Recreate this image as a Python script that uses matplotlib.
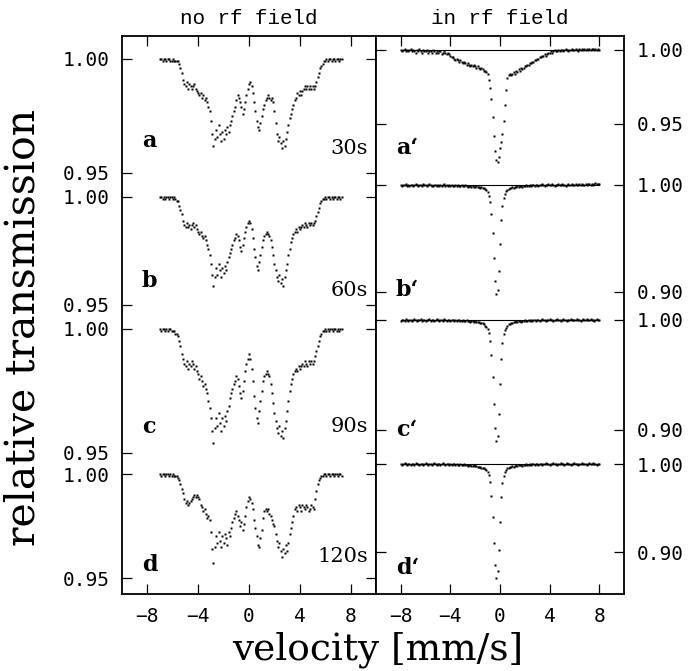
#coding=utf-8

import matplotlib
matplotlib.use("Agg")
from matplotlib import pyplot as plt

# velocity channels [mm/s]
velocity_left = [
    -7.0, -6.9, -6.8, -6.7, -6.6, -6.5, -6.4, -6.3, -6.2, -6.1,
    -6.0, -5.9, -5.8, -5.7, -5.6, -5.5, -5.4, -5.3, -5.2, -5.1,
    -5.0, -4.9, -4.8, -4.7, -4.6, -4.5, -4.4, -4.3, -4.2, -4.1,
    -4.0, -3.9, -3.8, -3.7, -3.6, -3.5, -3.4, -3.3, -3.2, -3.1,
    -3.0, -2.9, -2.8, -2.7, -2.6, -2.5, -2.4, -2.3, -2.2, -2.1,
    -2.0, -1.9, -1.8, -1.7, -1.6, -1.5, -1.4, -1.3, -1.2, -1.1,
    -1.0, -0.9, -0.8, -0.7, -0.6, -0.5, -0.4, -0.3, -0.2, -0.1,
    0.0, 0.1, 0.2, 0.3, 0.4, 0.5, 0.6, 0.7, 0.8, 0.9,
    1.0, 1.1, 1.2, 1.3, 1.4, 1.5, 1.6, 1.7, 1.8, 1.9,
    2.0, 2.1, 2.2, 2.3, 2.4, 2.5, 2.6, 2.7, 2.8, 2.9,
    3.0, 3.1, 3.2, 3.3, 3.4, 3.5, 3.6, 3.7, 3.8, 3.9,
    4.0, 4.1, 4.2, 4.3, 4.4, 4.5, 4.6, 4.7, 4.8, 4.9,
    5.0, 5.1, 5.2, 5.3, 5.4, 5.5, 5.6, 5.7, 5.8, 5.9,
    6.0, 6.1, 6.2, 6.3, 6.4, 6.5, 6.6, 6.7, 6.8, 6.9,
    7.0, 7.1, 7.2, 7.3]

velocity_right = [
    -8.0, -7.9, -7.8, -7.7, -7.6, -7.5, -7.4, -7.3, -7.2, -7.1,
    -7.0, -6.9, -6.8, -6.7, -6.6, -6.5, -6.4, -6.3, -6.2, -6.1,
    -6.0, -5.9, -5.8, -5.7, -5.6, -5.5, -5.4, -5.3, -5.2, -5.1,
    -5.0, -4.9, -4.8, -4.7, -4.6, -4.5, -4.4, -4.3, -4.2, -4.1,
    -4.0, -3.9, -3.8, -3.7, -3.6, -3.5, -3.4, -3.3, -3.2, -3.1,
    -3.0, -2.9, -2.8, -2.7, -2.6, -2.5, -2.4, -2.3, -2.2, -2.1,
    -2.0, -1.9, -1.8, -1.7, -1.6, -1.5, -1.4, -1.3, -1.2, -1.1,
    -1.0, -0.9, -0.8, -0.7, -0.6, -0.5, -0.4, -0.3, -0.2, -0.1,
    0.0, 0.1, 0.2, 0.3, 0.4, 0.5, 0.6, 0.7, 0.8, 0.9,
    1.0, 1.1, 1.2, 1.3, 1.4, 1.5, 1.6, 1.7, 1.8, 1.9,
    2.0, 2.1, 2.2, 2.3, 2.4, 2.5, 2.6, 2.7, 2.8, 2.9,
    3.0, 3.1, 3.2, 3.3, 3.4, 3.5, 3.6, 3.7, 3.8, 3.9,
    4.0, 4.1, 4.2, 4.3, 4.4, 4.5, 4.6, 4.7, 4.8, 4.9,
    5.0, 5.1, 5.2, 5.3, 5.4, 5.5, 5.6, 5.7, 5.8, 5.9,
    6.0, 6.1, 6.2, 6.3, 6.4, 6.5, 6.6, 6.7, 6.8, 6.9,
    7.0, 7.1, 7.2, 7.3, 7.4, 7.5, 7.6, 7.7, 7.8, 7.9,
    8.0]

# absorption = 1 - relative transmission, in units of 1e-3
absorb_a = [
    0, 0, 1, 0, 0, 1, 0, 0, 1, 1,
    0, 1, 1, 1, 1, 2, 4, 6, 9, 11,
    12, 10, 13, 11, 12, 13, 12, 11, 13, 14,
    15, 16, 15, 17, 16, 18, 17, 19, 21, 23,
    27, 33, 38, 35, 31, 34, 29, 33, 36, 32,
    35, 31, 33, 30, 32, 29, 27, 25, 23, 21,
    18, 16, 17, 19, 21, 24, 22, 19, 16, 13,
    11, 10, 12, 15, 19, 23, 27, 30, 31, 28,
    25, 22, 20, 18, 17, 16, 17, 18, 17, 19,
    23, 28, 33, 36, 34, 37, 39, 36, 38, 35,
    32, 29, 26, 24, 22, 20, 18, 17, 15, 16,
    14, 16, 14, 13, 12, 13, 12, 13, 12, 13,
    12, 13, 12, 10, 8, 6, 4, 3, 2, 1,
    1, 0, 1, 0, 0, 1, 0, 0, 1, 0,
    0, 1, 0, 0]

absorb_b = [
    0, 0, 1, 0, 1, 0, 0, 1, 0, 0,
    1, 0, 1, 2, 2, 4, 6, 8, 11, 13,
    14, 12, 14, 13, 15, 13, 12, 14, 13, 15,
    16, 17, 16, 18, 19, 18, 20, 22, 24, 27,
    31, 36, 41, 37, 33, 36, 31, 34, 37, 33,
    35, 32, 34, 30, 28, 26, 24, 22, 20, 19,
    17, 18, 20, 23, 25, 22, 19, 16, 14, 12,
    11, 12, 15, 19, 24, 28, 32, 34, 30, 27,
    23, 20, 18, 17, 16, 17, 18, 20, 23, 27,
    31, 34, 37, 39, 36, 40, 38, 41, 37, 34,
    31, 27, 24, 21, 19, 17, 16, 15, 16, 14,
    15, 14, 13, 14, 12, 13, 14, 12, 13, 12,
    13, 12, 11, 9, 7, 5, 3, 2, 1, 1,
    0, 1, 0, 0, 1, 0, 1, 0, 0, 1,
    0, 0, 1, 0]

absorb_c = [
    0, 1, 0, 0, 1, 0, 1, 0, 0, 1,
    1, 1, 2, 2, 3, 5, 7, 10, 12, 14,
    15, 13, 16, 14, 15, 13, 14, 16, 15, 17,
    18, 20, 19, 21, 23, 22, 24, 26, 29, 32,
    36, 41, 46, 40, 36, 39, 34, 38, 41, 36,
    39, 35, 37, 33, 31, 28, 26, 24, 22, 21,
    19, 20, 23, 26, 28, 25, 21, 17, 14, 12,
    10, 12, 16, 21, 27, 32, 36, 38, 33, 29,
    25, 21, 19, 18, 17, 18, 19, 22, 26, 30,
    34, 37, 40, 42, 39, 43, 41, 44, 40, 37,
    33, 29, 25, 22, 20, 18, 17, 16, 17, 15,
    16, 15, 14, 15, 13, 14, 15, 13, 14, 13,
    14, 13, 11, 9, 7, 5, 3, 2, 1, 1,
    0, 1, 0, 1, 0, 0, 1, 0, 0, 1,
    0, 1, 0, 0]

absorb_d = [
    0, 1, 0, 0, 1, 0, 0, 1, 0, 1,
    0, 1, 1, 1, 2, 3, 5, 7, 9, 12,
    14, 13, 15, 14, 13, 12, 11, 10, 11, 10,
    11, 12, 15, 16, 18, 17, 19, 21, 20, 22,
    28, 36, 43, 35, 30, 33, 28, 32, 35, 30,
    33, 29, 31, 34, 28, 30, 26, 23, 21, 19,
    18, 20, 22, 25, 23, 27, 24, 20, 16, 13,
    11, 12, 14, 17, 22, 26, 30, 34, 35, 31,
    27, 21, 18, 17, 18, 17, 19, 20, 22, 24,
    25, 29, 32, 35, 33, 37, 40, 36, 38, 34,
    37, 33, 29, 26, 23, 20, 17, 16, 18, 15,
    16, 18, 15, 16, 17, 15, 16, 18, 17, 15,
    16, 17, 12, 8, 5, 3, 2, 1, 1, 0,
    0, 1, 0, 0, 1, 0, 0, 1, 0, 0,
    1, 0, 0, 1]

absorb_a_rf = [
    0, 1, 0, -1, 1, 0, 1, 0, -1, 1,
    0, 1, 2, 0, 1, -1, 1, 2, 0, 1,
    1, 0, 2, 1, 1, 2, 0, 1, 2, 1,
    2, 1, 1, 3, 2, 1, 2, 3, 2, 3,
    4, 5, 5, 6, 7, 6, 7, 8, 7, 8,
    9, 8, 9, 10, 9, 10, 11, 10, 11, 10,
    11, 12, 11, 12, 13, 12, 13, 14, 14, 15,
    16, 20, 26, 33, 45, 58, 68, 74, 76, 72,
    66, 62, 57, 48, 37, 27, 19, 17, 16, 17,
    16, 15, 16, 14, 15, 13, 14, 12, 13, 12,
    11, 11, 10, 10, 9, 9, 8, 8, 7, 7,
    6, 6, 5, 5, 4, 4, 3, 4, 3, 2,
    2, 1, 2, 1, 0, 1, 1, 0, 1, 0,
    0, 1, 0, -1, 0, 1, 0, 0, -1, 0,
    0, -1, 0, 1, -1, 0, -1, 0, -1, 0,
    -1, 0, -1, 0, -1, -1, 0, -1, 0, -1,
    0]

absorb_b_rf = [
    0, 1, 0, 0, -1, 1, 0, 1, 0, 0,
    1, 0, -1, 0, 1, 0, 0, 1, -1, 0,
    0, 1, 0, -1, 0, 1, 1, 0, 0, 1,
    0, 1, 0, 1, 0, -1, 1, 0, 1, 0,
    1, 0, 1, 1, 0, 1, 0, 1, 1, 0,
    1, 1, 0, 1, 2, 1, 1, 2, 1, 2,
    2, 1, 2, 2, 3, 2, 3, 3, 4, 5,
    7, 10, 16, 27, 45, 68, 90, 102, 98, 80,
    55, 33, 20, 12, 8, 6, 5, 4, 3, 3,
    2, 3, 2, 2, 1, 2, 1, 1, 2, 1,
    1, 0, 1, 1, 0, 1, 0, 0, 1, 0,
    0, 1, 0, 0, -1, 0, 1, 0, 0, -1,
    0, 0, -1, 0, 1, 0, 0, -1, 0, 0,
    -1, 0, 0, 1, 0, -1, 0, 0, -1, 0,
    0, -1, 0, 0, -1, 0, -1, 0, 0, -1,
    0, -1, -1, 0, -1, 0, -1, -2, -1, -1,
    -1]

absorb_c_rf = [
    1, 0, 0, 1, -1, 0, 1, 0, 0, 1,
    0, -1, 0, 1, 0, 0, -1, 1, 0, 0,
    1, 0, 0, -1, 1, 0, 0, 1, 0, -1,
    0, 1, 0, 0, 1, -1, 0, 1, 0, 0,
    1, 0, 0, 1, 0, 1, 0, 0, 1, 1,
    0, 1, 1, 0, 1, 1, 2, 1, 1, 2,
    1, 2, 2, 2, 3, 3, 3, 4, 5, 6,
    8, 12, 19, 32, 52, 76, 98, 110, 105, 85,
    58, 35, 21, 13, 9, 7, 5, 4, 4, 3,
    3, 2, 2, 1, 2, 1, 1, 2, 1, 1,
    0, 1, 1, 0, 1, 0, 1, 0, 0, 1,
    0, 0, 1, 0, -1, 0, 0, 1, 0, 0,
    -1, 0, 0, 1, 0, 0, -1, 0, 0, 1,
    0, -1, 0, 0, 1, 0, 0, -1, 0, 0,
    0, 0, -1, 0, 0, 1, 0, -1, 0, 0,
    -1, 0, 0, -1, 0, 0, 1, 0, -1, 0,
    0]

absorb_d_rf = [
    0, 1, 0, -1, 0, 1, 0, 0, 1, 0,
    0, 1, -1, 0, 0, 1, 0, 0, 1, 0,
    -1, 0, 1, 0, 0, 1, 0, -1, 0, 1,
    0, 0, 1, 0, -1, 0, 1, 0, 0, 1,
    0, 1, 0, 0, 1, 0, 1, 1, 0, 1,
    1, 0, 1, 1, 2, 1, 1, 2, 2, 1,
    2, 2, 3, 3, 3, 4, 4, 5, 6, 7,
    9, 13, 21, 36, 60, 90, 115, 130, 122, 98,
    66, 38, 22, 14, 9, 7, 5, 4, 3, 3,
    2, 3, 2, 1, 2, 1, 1, 1, 2, 1,
    1, 0, 1, 1, 0, 1, 0, 0, 1, 0,
    0, 1, 0, 0, 1, 0, 0, -1, 0, 0,
    1, 0, 0, -1, 0, 0, 1, 0, 0, -1,
    0, 0, 1, 0, -1, 0, 0, 1, 0, 0,
    -1, 0, 0, 1, 0, 0, -1, 0, 0, 0,
    1, 0, -1, 0, 0, -1, 0, 0, 1, 0,
    0]

left_letters = ["a", "b", "c", "d"]
left_times = ["30s", "60s", "90s", "120s"]
right_letters = ["a\u2018", "b\u2018", "c\u2018", "d\u2018"]
left_low = [0.95, 0.95, 0.95, 0.95]
right_low = [0.95, 0.90, 0.90, 0.90]
x_ticks = [-8, -4, 0, 4, 8]

left_absorb = [absorb_a, absorb_b, absorb_c, absorb_d]
right_absorb = [absorb_a_rf, absorb_b_rf, absorb_c_rf, absorb_d_rf]

# layout in pixels of the 695x671 picture
W, H = 695, 671
top, bottom = 36, 594
left_col = (122, 376)
right_col = (376, 624)
# pixel rows of the 1.00 tick and of the lower tick for every spectrum
left_rows = [(59, 173), (197, 305), (329, 453), (474, 578)]
right_rows = [(50, 124), (185, 292), (320, 430), (464, 552)]
left_text_y = [(141, 149), (281, 290), (427, 426), (565, 556)]
right_text_y = [148, 290, 430, 568]

tick_font = {"family": "DejaVu Sans Mono", "size": 14}
serif = "DejaVu Serif"


def fig_xy(x, y):
    return x / W, 1 - y / H


def column_rect(col):
    x0, x1 = col
    return [x0 / W, 1 - bottom / H, (x1 - x0) / W, (bottom - top) / H]


def ylimits(row, low):
    hi_px, lo_px = row
    scale = (lo_px - hi_px) / (1.0 - low)
    return low - (bottom - lo_px) / scale, 1.0 + (hi_px - top) / scale


def draw_column(fig, col, rows, lows, spectra, velocity, side, ref_line):
    rect = column_rect(col)
    frame = fig.add_axes(rect)
    frame.set_xlim(-10, 10)
    frame.set_yticks([])
    frame.set_xticks(x_ticks)
    frame.set_xticklabels([str(t).replace("-", "\u2212") for t in x_ticks],
                          fontdict=tick_font)
    frame.tick_params(axis="x", direction="in", top=True, bottom=True,
                      length=7, width=0.9, pad=9)
    for s in frame.spines.values():
        s.set_linewidth(1.3)

    for row, low, absorb in zip(rows, lows, spectra):
        ax = fig.add_axes(rect, sharex=frame)
        ax.patch.set_alpha(0)
        for s in ax.spines.values():
            s.set_visible(False)
        ax.set_ylim(*ylimits(row, low))
        trans = [1 - d / 1000.0 for d in absorb]
        if ref_line:
            ax.plot([velocity[0], velocity[-1]], [1.0, 1.0], color="k", lw=0.8)
        ax.plot(velocity, trans, "s", ms=2.1, color="k", mec="none")
        ax.set_yticks([low, 1.0])
        ax.set_yticklabels(["%.2f" % low, "1.00"], fontdict=tick_font)
        ax.tick_params(axis="x", bottom=False, labelbottom=False)
        ax.tick_params(axis="y", direction="in", left=True, right=True,
                       length=7, width=0.9, pad=9,
                       labelleft=(side == "left"), labelright=(side == "right"))


fig = plt.figure(figsize=(W / 100, H / 100), dpi=100)

draw_column(fig, left_col, left_rows, left_low, left_absorb, velocity_left, "left", False)
draw_column(fig, right_col, right_rows, right_low, right_absorb, velocity_right, "right", True)

# column titles
fig.text(*fig_xy(249, 18), "no rf field", family="Liberation Mono", size=15,
         ha="center", va="center")
fig.text(*fig_xy(500, 18), "in rf field", family="Liberation Mono", size=15,
         ha="center", va="center")

# panel letters and times
for letter, time, (ly, ty) in zip(left_letters, left_times, left_text_y):
    fig.text(*fig_xy(142, ly), letter, family=serif, weight="bold", size=16,
             ha="left", va="center")
    fig.text(*fig_xy(368, ty), time, family=serif, size=15,
             ha="right", va="center")
for letter, ly in zip(right_letters, right_text_y):
    fig.text(*fig_xy(396, ly), letter, family=serif, weight="bold", size=16,
             ha="left", va="center")

fig.text(*fig_xy(24, 328), "relative transmission", family=serif, size=29.5,
         rotation=90, ha="center", va="center")
fig.text(*fig_xy(378, 650), "velocity [mm/s]", family=serif, size=27,
         ha="center", va="center")

plt.savefig("out.png", dpi=100)
